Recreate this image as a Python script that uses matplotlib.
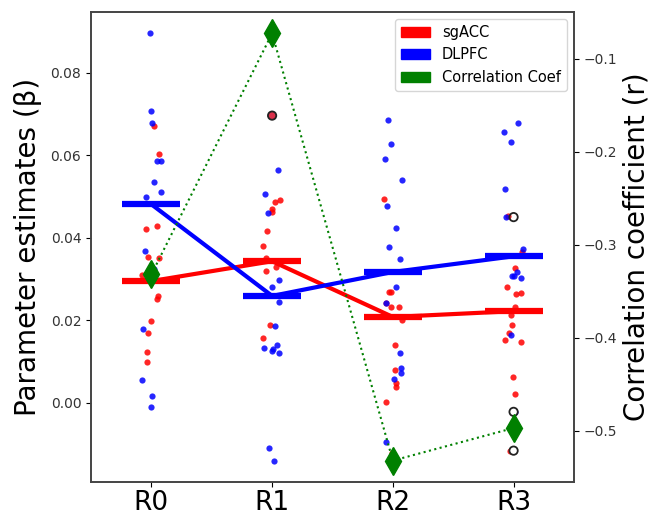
# Parameter estimates por região + coeficiente de correlação

import numpy as np
import matplotlib.pyplot as plt
from matplotlib.patches import Patch

regions = ["R0", "R1", "R2", "R3"]

# pontos individuais (beta) por região
sgacc = [
    [0.0672, 0.0604, 0.0428, 0.0421, 0.0353, 0.0350, 0.0309, 0.0259, 0.0251, 0.0198, 0.0169, 0.0123, 0.0099],
    [0.0491, 0.0486, 0.0469, 0.0462, 0.0416, 0.0380, 0.0350, 0.0329, 0.0319, 0.0189, 0.0157],
    [0.0493, 0.0268, 0.0268, 0.0242, 0.0232, 0.0232, 0.0201, 0.0140, 0.0080, 0.0048, 0.0039, 0.0002, -0.0121],
    [0.0452, 0.0365, 0.0326, 0.0280, 0.0266, 0.0263, 0.0232, 0.0213, 0.0189, 0.0169, 0.0152, 0.0147, 0.0063, 0.0022, -0.0116],
]
dlpfc = [
    [0.0897, 0.0706, 0.0677, 0.0587, 0.0587, 0.0534, 0.0512, 0.0498, 0.0367, 0.0324, 0.0179, 0.0056, 0.0017, -0.0010],
    [0.0563, 0.0505, 0.0459, 0.0297, 0.0280, 0.0244, 0.0186, 0.0140, 0.0133, 0.0131, 0.0126, 0.0121, -0.0109, -0.0140],
    [0.0686, 0.0626, 0.0592, 0.0541, 0.0476, 0.0423, 0.0377, 0.0348, 0.0280, 0.0242, 0.0121, 0.0085, 0.0073, 0.0058, -0.0094],
    [0.0679, 0.0657, 0.0633, 0.0517, 0.0450, 0.0372, 0.0317, 0.0307, 0.0307, 0.0302, 0.0164, -0.0022],
]

# médias (pointplot)
mean_sgacc = [0.0295, 0.0343, 0.0208, 0.0222]
mean_dlpfc = [0.0481, 0.0259, 0.0317, 0.0355]

# coeficiente de correlação
corr = [-0.332, -0.073, -0.532, -0.497]

# outliers marcados com círculo
out_region = [1, 3, 3, 3]
out_value = [0.0696, 0.0450, -0.0022, -0.0116]
out_fill = ['#d9304a', 'none', 'white', 'white']

fig = plt.figure(figsize=(6.5, 5.17), dpi=100)
ax1 = fig.add_axes([0.140, 0.0677, 0.743, 0.909])

rng = np.random.default_rng(7)
for i in range(len(regions)):
    xs = i + rng.uniform(-0.08, 0.08, len(sgacc[i]))
    ax1.scatter(xs, sgacc[i], s=20, color='red', alpha=0.85, linewidths=0, zorder=2)
    xs = i + rng.uniform(-0.08, 0.08, len(dlpfc[i]))
    ax1.scatter(xs, dlpfc[i], s=20, color='blue', alpha=0.85, linewidths=0, zorder=2)

ax1.scatter(out_region, out_value, s=36, facecolors=out_fill, edgecolors='#222222', linewidths=1.3, zorder=3)

x = np.arange(len(regions))
ax1.plot(x, mean_sgacc, color='red', lw=3, marker='_', markersize=42, markeredgewidth=4.5, zorder=4)
ax1.plot(x, mean_dlpfc, color='blue', lw=3, marker='_', markersize=42, markeredgewidth=4.5, zorder=4)

ax1.set_xlim(-0.5, 3.5)
ax1.set_ylim(-0.0192, 0.0947)
ax1.set_xticks(x)
ax1.set_xticklabels(regions, fontsize=19)
ax1.tick_params(axis='x', pad=2)
ax1.tick_params(axis='y', labelsize=10, labelcolor='#333333')
ax1.set_ylabel('Parameter estimates (β)', fontsize=20, labelpad=6)

ax2 = ax1.twinx()
ax2.plot(x, corr, color='green', ls=':', lw=1.5, marker='d', markersize=14, zorder=5)
ax2.set_ylim(-0.555, -0.050)
ax2.tick_params(axis='y', labelsize=10, labelcolor='#333333')
ax2.set_ylabel('Correlation coefficient (r)', fontsize=20)

for ax in (ax1, ax2):
    for sp in ax.spines.values():
        sp.set_color('#444444')
        sp.set_linewidth(1.2)

handles = [Patch(color='red', label='sgACC'),
           Patch(color='blue', label='DLPFC'),
           Patch(color='green', label='Correlation Coef')]
ax2.legend(handles=handles, loc='upper right', fontsize=10.5)

plt.savefig('out.png')
